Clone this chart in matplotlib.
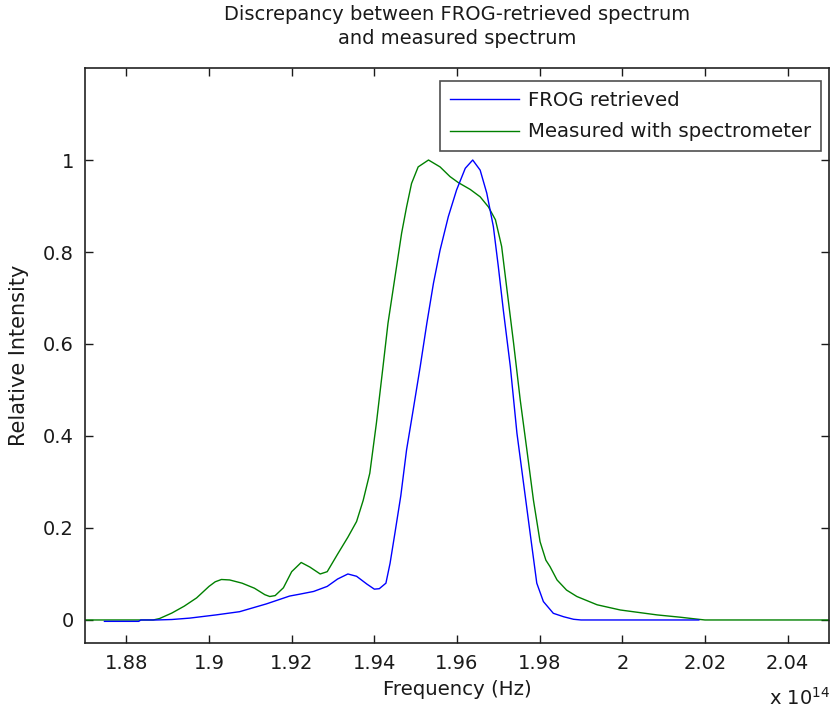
import matplotlib
matplotlib.use("Agg")
import matplotlib.pyplot as plt
from matplotlib.ticker import FixedLocator, FixedFormatter

# Frequencies in units of 1e14 Hz
frog_freq = [1.8747, 1.883, 1.8835, 1.8873, 1.891, 1.8953, 1.9017, 1.9074, 1.9139,
             1.9195, 1.9219, 1.9253, 1.9286, 1.9311, 1.9336, 1.9357, 1.9382, 1.9400,
             1.9412, 1.9428, 1.9438, 1.9450, 1.9464, 1.9478, 1.9494, 1.9511, 1.9527,
             1.9543, 1.9559, 1.9579, 1.9599, 1.9620, 1.9638, 1.9656, 1.9672, 1.9688,
             1.9700, 1.9712, 1.9729, 1.9745, 1.9761, 1.9777, 1.9793, 1.9809, 1.9833,
             1.9858, 1.9882, 1.990, 2.0185]
frog_int = [-0.003, -0.003, 0.0, 0.0, 0.001, 0.004, 0.011, 0.018, 0.035,
            0.052, 0.056, 0.062, 0.073, 0.089, 0.100, 0.095, 0.078, 0.067,
            0.068, 0.080, 0.123, 0.19, 0.27, 0.37, 0.457, 0.551, 0.645,
            0.732, 0.804, 0.877, 0.935, 0.982, 1.0, 0.978, 0.928, 0.855,
            0.768, 0.674, 0.551, 0.406, 0.297, 0.188, 0.08, 0.040, 0.0145,
            0.007, 0.0015, 0.0, 0.0]

meas_freq = [1.870, 1.880, 1.8865, 1.888, 1.891, 1.894, 1.897, 1.900, 1.9015, 1.903,
             1.905, 1.908, 1.911, 1.9135, 1.9147, 1.916, 1.918, 1.920, 1.9223, 1.9244,
             1.9269, 1.9286, 1.9311, 1.9336, 1.9357, 1.9373, 1.9389, 1.9405, 1.9421,
             1.9433, 1.9450, 1.9466, 1.9478, 1.9490, 1.9506, 1.9531, 1.9559, 1.9583,
             1.9603, 1.9632, 1.9656, 1.9676, 1.9693, 1.9708, 1.9721, 1.9737, 1.9753,
             1.9769, 1.9785, 1.9801, 1.9815, 1.9825, 1.9842, 1.9865, 1.989, 1.9939,
             1.9995, 2.0084, 2.014, 2.0184, 2.020, 2.050]
meas_int = [0.0, 0.0, 0.0, 0.003, 0.015, 0.03, 0.048, 0.073, 0.083, 0.088,
            0.087, 0.08, 0.069, 0.055, 0.051, 0.053, 0.07, 0.105, 0.125, 0.115,
            0.100, 0.105, 0.143, 0.180, 0.214, 0.26, 0.319, 0.428, 0.551,
            0.645, 0.746, 0.841, 0.898, 0.949, 0.985, 1.0, 0.985, 0.964,
            0.951, 0.936, 0.920, 0.898, 0.870, 0.812, 0.717, 0.601, 0.478,
            0.370, 0.26, 0.17, 0.13, 0.116, 0.087, 0.065, 0.051, 0.033,
            0.0217, 0.011, 0.006, 0.0015, 0.0, 0.0]

x_ticks = [1.88, 1.90, 1.92, 1.94, 1.96, 1.98, 2.00, 2.02, 2.04]
x_tick_labels = ["1.88", "1.9", "1.92", "1.94", "1.96", "1.98", "2", "2.02", "2.04"]
y_ticks = [0, 0.2, 0.4, 0.6, 0.8, 1.0]
y_tick_labels = ["0", "0.2", "0.4", "0.6", "0.8", "1"]

plt.rcParams['font.family'] = ['DejaVu Sans']
txt_color = '#1a1a1a'

fig = plt.figure(figsize=(8.31, 7.16), dpi=100)
ax = fig.add_axes([0.1023, 0.102, 0.8953, 0.803])

lg, = ax.plot(meas_freq, meas_int, color=(0, 0.5, 0), lw=1.0, zorder=2,
              label="Measured with spectrometer")
lb, = ax.plot(frog_freq, frog_int, color=(0, 0, 1), lw=1.0, zorder=3,
              label="FROG retrieved")

ax.set_xlim(1.87, 2.05)
ax.set_ylim(-0.05, 1.2)
ax.xaxis.set_major_locator(FixedLocator(x_ticks))
ax.xaxis.set_major_formatter(FixedFormatter(x_tick_labels))
ax.yaxis.set_major_locator(FixedLocator(y_ticks))
ax.yaxis.set_major_formatter(FixedFormatter(y_tick_labels))
ax.tick_params(direction='in', length=6, width=1.0, top=True, right=True,
               labelsize=14, colors=txt_color, pad=8)
for s in ax.spines.values():
    s.set_linewidth(1.2)
    s.set_color('#222222')

ax.set_xlabel("Frequency (Hz)", fontsize=14.2, color=txt_color, labelpad=5)
ax.set_ylabel("Relative Intensity", fontsize=15, color=txt_color, labelpad=10)
ax.set_title("Discrepancy between FROG-retrieved spectrum\nand measured spectrum",
             fontsize=14, color=txt_color, pad=17, linespacing=1.35)

ax.text(0.96, -0.096, r"x 10$^{14}$", transform=ax.transAxes, fontsize=14,
        color=txt_color, ha='center', va='center')

leg = ax.legend(handles=[lb, lg], loc='upper right', bbox_to_anchor=(0.9893, 0.9778),
                fontsize=14.2, frameon=True, fancybox=False, edgecolor='#222222',
                handlelength=3.5, handletextpad=0.45, borderpad=0.5,
                labelspacing=0.65, borderaxespad=0)
leg.get_frame().set_linewidth(1.2)
for t in leg.get_texts():
    t.set_color(txt_color)

fig.savefig("out.png", dpi=100)
